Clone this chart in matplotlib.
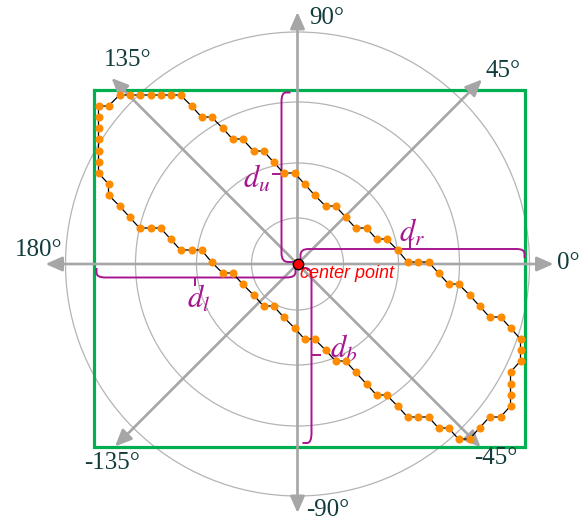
import numpy as np
import matplotlib
matplotlib.use("Agg")
import matplotlib.pyplot as plt
from matplotlib.path import Path
from matplotlib.patches import PathPatch, Circle, Rectangle

# DATA (units = pixels, origin at the center point, y up)

# contour points, clockwise from the top-left corner
contour_x = [-178, -168, -158, -147, -137, -127, -117, -106, -96, -86,
             -75, -65, -55, -44, -34, -24, -14, -3, 7, 17,
             28, 38, 48, 58, 69, 79, 89, 100, 110, 120,
             131, 141, 151, 161, 172, 182, 192, 203, 213, 223,
             223, 223, 213, 213, 213, 213, 203, 192, 182, 172,
             161, 151, 141, 131, 120, 110, 100, 89, 79, 69,
             58, 48, 38, 28, 17, 7, -3, -14, -24, -34,
             -44, -55, -65, -75, -86, -96, -106, -117, -127, -137,
             -147, -158, -168, -178, -189, -189, -199, -199, -199, -199,
             -199, -199, -199, -189]
contour_y = [169, 169, 169, 169, 169, 169, 169, 158, 147, 147,
             136, 125, 125, 113, 113, 102, 91, 91, 80, 69,
             58, 58, 47, 36, 36, 25, 25, 14, 2, 2,
             2, -9, -20, -20, -31, -42, -53, -53, -64, -75,
             -86, -97, -108, -120, -131, -142, -153, -153, -164, -175,
             -175, -164, -164, -153, -153, -153, -142, -131, -131, -120,
             -108, -97, -97, -86, -75, -75, -64, -53, -42, -42,
             -31, -20, -9, -9, 2, 14, 14, 14, 25, 36,
             36, 36, 47, 58, 69, 80, 91, 102, 113, 125,
             136, 147, 158, 158]

circle_radii = [46, 101, 162, 232]

axis_angles = [0, 45, 90, 135, 180, -135, -90, -45]
axis_lengths = [256, 261, 252, 263, 252, 258, 249, 259]
angle_labels = ["0°", "45°", "90°", "135°", "180°", "-135°", "-90°", "-45°"]

# bounding box: left, bottom, right, top
box = [-204, -183, 227.5, 174]

# distances (bracket paths) and their labels
d_u = [(-7, 171.5), (-16, 171.5), (-16, 2), (-3, 2)]
d_r = [(3, 3), (3, 15), (227, 15), (227, 6)]
d_l = [(-201, -4), (-201, -13.5), (-2, -13.5), (-2, -3)]
d_b = [(2, -4), (14, -4), (14, -179), (5, -179)]


def rounded_path(pts, r):
    pts = np.asarray(pts, float)
    verts = [pts[0]]
    codes = [Path.MOVETO]
    for k in range(1, len(pts) - 1):
        p0, p1, p2 = pts[k - 1], pts[k], pts[k + 1]
        l1 = np.linalg.norm(p1 - p0)
        l2 = np.linalg.norm(p2 - p1)
        a = p1 - (p1 - p0) / l1 * min(r, l1 / 2)
        b = p1 + (p2 - p1) / l2 * min(r, l2 / 2)
        verts += [a, p1, b]
        codes += [Path.LINETO, Path.CURVE3, Path.CURVE3]
    verts.append(pts[-1])
    codes.append(Path.LINETO)
    return Path(verts, codes)


plt.rcParams["font.serif"] = ["Liberation Serif", "DejaVu Serif"]
plt.rcParams["mathtext.fontset"] = "stix"

fig = plt.figure(figsize=(5.87, 5.21), dpi=100)
ax = fig.add_axes([0, 0, 1, 1])
ax.set_xlim(-297.5, 289.5)
ax.set_ylim(-257, 264)
ax.axis("off")

gray = "#a6a6a6"
magenta = "#a8168f"
teal = "#123c3c"

# circles
for r in circle_radii:
    ax.add_patch(Circle((0, 0), r, fill=False, ec="#b4b4b4", lw=0.9, zorder=1))

# green box
ax.add_patch(Rectangle((box[0], box[1]), box[2] - box[0], box[3] - box[1],
                       fill=False, ec="#00b050", lw=2.3, zorder=2))

# axis arrows
for ang, length in zip(axis_angles, axis_lengths):
    t = np.deg2rad(ang)
    ax.annotate("", xy=(length * np.cos(t), length * np.sin(t)), xytext=(0, 0),
                arrowprops=dict(arrowstyle="-|>,head_length=0.5,head_width=0.22",
                                color=gray, lw=1.9, shrinkA=0, shrinkB=0,
                                mutation_scale=20), zorder=3)

# angle labels
label_pos = {"0°": (271, 1), "45°": (206, 193), "90°": (29, 246),
             "135°": (-170, 204), "180°": (-259, 14), "-135°": (-185, -199),
             "-90°": (30, -246), "-45°": (198, -194)}
for lab in angle_labels:
    x, y = label_pos[lab]
    ax.text(x, y, lab, fontsize=18, family="serif", color=teal,
            ha="center", va="center", zorder=6)

# distance brackets
for pts, rr in [(d_u, 9), (d_r, 8), (d_l, 9), (d_b, 10)]:
    ax.add_patch(PathPatch(rounded_path(pts, rr), fill=False, ec=magenta,
                           lw=1.4, zorder=4))
ax.plot([-25, -16], [90, 90], color=magenta, lw=1.4, zorder=4)
ax.plot([112.5, 112.5], [15, 24], color=magenta, lw=1.4, zorder=4)
ax.plot([-102.5, -102.5], [-13.5, -21], color=magenta, lw=1.4, zorder=4)
ax.plot([14, 22.5], [-91, -91], color=magenta, lw=1.4, zorder=4)

for txt, (x, y) in [(r"$d_{\mathsf{u}}$", (-41, 86)), (r"$d_r$", (115, 32)),
                    (r"$d_l$", (-99, -34)), (r"$d_b$", (46, -84))]:
    ax.text(x, y, txt.replace(r"\mathsf{u}", "u"), fontsize=22, color=magenta,
            ha="center", va="center", zorder=6)

# contour
cx = contour_x + contour_x[:1]
cy = contour_y + contour_y[:1]
ax.plot(cx, cy, color="black", lw=0.9, zorder=5)
ax.plot(contour_x, contour_y, "o", color="#ff8c00", ms=5.8, mec="none", zorder=6)

# center point
ax.plot([0], [0], "o", color="red", ms=7.5, mec="black", mew=1, zorder=7)
ax.text(2.5, -9.5, "center point", color="red", fontsize=13, style="italic",
        family="Liberation Sans", ha="left", va="center", zorder=7)

fig.savefig("out.png", dpi=100)
